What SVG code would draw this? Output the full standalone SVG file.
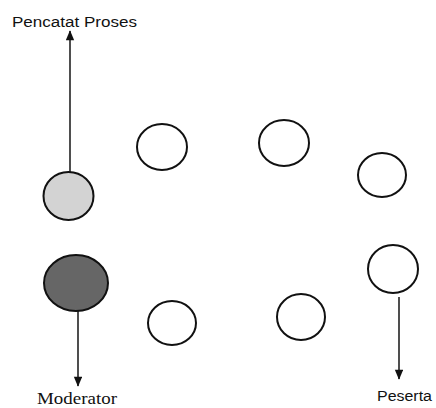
<svg xmlns="http://www.w3.org/2000/svg" width="436" height="408" viewBox="0 0 436 408">
<defs>
<marker id="ah" viewBox="0 0 10 12" refX="11" refY="5" markerWidth="12" markerHeight="10" markerUnits="userSpaceOnUse" orient="auto">
<path d="M0,0 L12,5 L0,10 z" fill="#111"/>
</marker>
<style>
.c{fill:#fff;stroke:#111;stroke-width:2}
.l{stroke:#222;stroke-width:1.6;fill:none;marker-end:url(#ah)}
.t{font-family:"Liberation Sans",Arial,sans-serif;font-size:14px;fill:#111}
.s{font-family:"Liberation Serif","Times New Roman",serif;font-size:16px;fill:#111}
</style>
</defs>
<rect width="436" height="408" fill="#fff"/>
<g id="connectors">
<line class="l" x1="70" y1="172" x2="70" y2="31"/>
<line class="l" x1="78" y1="311" x2="78" y2="386"/>
<line class="l" x1="399" y1="297" x2="399" y2="379"/>
</g>
<g id="pencatat">
<ellipse class="c" cx="68.5" cy="196" rx="25" ry="24" style="fill:#d3d3d3"/>
<text class="t" x="12" y="27" textLength="125" lengthAdjust="spacingAndGlyphs">Pencatat Proses</text>
</g>
<g id="moderator">
<ellipse class="c" cx="76" cy="283" rx="32" ry="28" style="fill:#666"/>
<text class="s" x="37" y="404" textLength="80" lengthAdjust="spacingAndGlyphs">Moderator</text>
</g>
<g id="peserta">
<ellipse class="c" cx="393" cy="269" rx="25" ry="24"/>
<text class="t" x="377" y="401" textLength="55" lengthAdjust="spacingAndGlyphs">Peserta</text>
</g>
<g id="c1"><ellipse class="c" cx="162" cy="147" rx="25" ry="23"/></g>
<g id="c2"><ellipse class="c" cx="284" cy="143" rx="25" ry="23"/></g>
<g id="c3"><ellipse class="c" cx="382" cy="175" rx="24" ry="22"/></g>
<g id="c4"><ellipse class="c" cx="172" cy="323" rx="24" ry="22"/></g>
<g id="c5"><ellipse class="c" cx="301" cy="317" rx="24" ry="23"/></g>
</svg>
